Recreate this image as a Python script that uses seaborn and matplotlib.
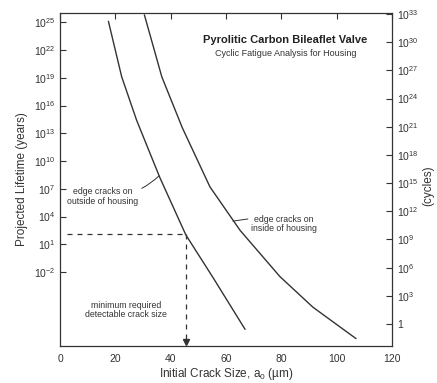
import numpy as np
import pandas as pd
import matplotlib
matplotlib.use("Agg")
import matplotlib.pyplot as plt
import seaborn as sns

# crack size (um) and log10 lifetime (years)
outside_x = [17.5, 22.3, 27.7, 36.1, 45.5, 55.3, 66.9]
outside_logy = [25.1, 19.1, 14.4, 8.2, 2.0, -2.6, -8.2]
inside_x = [30.5, 36.8, 44.2, 54.2, 65.1, 79.5, 91.4, 100.1, 107.0]
inside_logy = [25.8, 19.1, 13.6, 7.2, 2.5, -2.5, -5.8, -7.7, -9.2]

min_crack = 45.5
min_life_log = 2.1

x_ticks = [0, 20, 40, 60, 80, 100, 120]
left_exps = [25, 22, 19, 16, 13, 10, 7, 4, 1, -2]
right_exps = [33, 30, 27, 24, 21, 18, 15, 12, 9, 6, 3, 0]

sns.set_theme(style="white")
plt.rcParams['font.family'] = ['Liberation Sans', 'DejaVu Sans']
plt.rcParams['mathtext.fontset'] = 'custom'
plt.rcParams['mathtext.rm'] = 'Liberation Sans'
plt.rcParams['mathtext.it'] = 'Liberation Sans:italic'

df = pd.concat([
    pd.DataFrame({"x": outside_x, "y": 10.0 ** np.array(outside_logy), "s": "outside"}),
    pd.DataFrame({"x": inside_x, "y": 10.0 ** np.array(inside_logy), "s": "inside"}),
])

fig = plt.figure(figsize=(4.37, 3.83), dpi=100)
ax = fig.add_axes([60 / 437, 1 - 346 / 383, 332 / 437, 333 / 383])
ax.set_yscale("log")
sns.lineplot(data=df, x="x", y="y", units="s", estimator=None, sort=False,
             color="#333333", lw=1.0, ax=ax, legend=False)

ax.set_xlim(0, 120)
ax.set_ylim(1e-10, 1e26)

# dashed guide lines
ax.plot([2.5, min_crack], [10 ** min_life_log] * 2, ls=(0, (4, 4)), color="#333333", lw=0.9)
ax.plot([min_crack, min_crack], [10 ** min_life_log, 10 ** -9.2], ls=(0, (4, 4)), color="#333333", lw=0.9)
ax.plot([min_crack], [10 ** -9.55], marker="v", ms=4, color="#333333")

ax.set_xticks(x_ticks)
ax.set_xticklabels([str(t) for t in x_ticks], fontsize=7.5, color="#333333")
ax.set_yticks([10.0 ** e for e in left_exps])
ax.set_yticklabels([r"10$^{%d}$" % e for e in left_exps], fontsize=7.5, color="#333333")
ax.minorticks_off()
ax.tick_params(axis="both", direction="in", length=4, width=0.8, colors="#333333",
               top=True, labelcolor="#333333")
ax.tick_params(axis="x", pad=6)
for sp in ax.spines.values():
    sp.set_color("#333333")
    sp.set_linewidth(0.9)

ax.set_xlabel("Initial Crack Size, a$_0$ (\u00b5m)", fontsize=8.5, color="#333333", labelpad=1)
ax.set_ylabel("Projected Lifetime (years)", fontsize=8.5, color="#333333", labelpad=4)

ax2 = ax.twinx()
ax2.set_yscale("log")
ax2.set_ylim(10 ** -2.34, 10 ** 33.1)
ax2.set_yticks([10.0 ** e for e in right_exps])
ax2.set_yticklabels([r"10$^{%d}$" % e if e != 0 else "1" for e in right_exps], fontsize=7.5, color="#333333")
ax2.minorticks_off()
ax2.tick_params(axis="y", direction="in", length=4, width=0.8, colors="#333333", labelcolor="#333333")
ax2.set_ylabel("(cycles)", fontsize=8.5, color="#333333")
ax2.yaxis.set_label_coords(1.09, 0.48)
for sp in ax2.spines.values():
    sp.set_visible(False)

# text annotations
fig.text(285 / 437, 1 - 40 / 383, "Pyrolitic Carbon Bileaflet Valve", ha="center", va="center",
         fontsize=8, fontweight="bold", color="#222222")
fig.text(286 / 437, 1 - 53 / 383, "Cyclic Fatigue Analysis for Housing", ha="center", va="center",
         fontsize=6.5, color="#333333")

ax.annotate("edge cracks on\noutside of housing", xy=(35.8, 10 ** 8.4), xytext=(15.5, 10 ** 6.2),
            ha="center", va="center", fontsize=6.3, color="#333333", linespacing=1.1,
            arrowprops=dict(arrowstyle="-", color="#333333", lw=0.7, shrinkA=0, shrinkB=0,
                            connectionstyle="arc3,rad=0.1", relpos=(0.95, 0.75)))
ax.annotate("edge cracks on\ninside of housing", xy=(62.5, 10 ** 3.5), xytext=(81, 10 ** 3.2),
            ha="center", va="center", fontsize=6.3, color="#333333", linespacing=1.1,
            arrowprops=dict(arrowstyle="-", color="#333333", lw=0.7, shrinkA=0, shrinkB=0,
                            relpos=(0.02, 0.8)))
ax.text(24, 10 ** -6.1, "minimum required\ndetectable crack size", ha="center", va="center",
        fontsize=6.3, color="#333333", linespacing=1.1)

fig.savefig("out.png", dpi=100)
